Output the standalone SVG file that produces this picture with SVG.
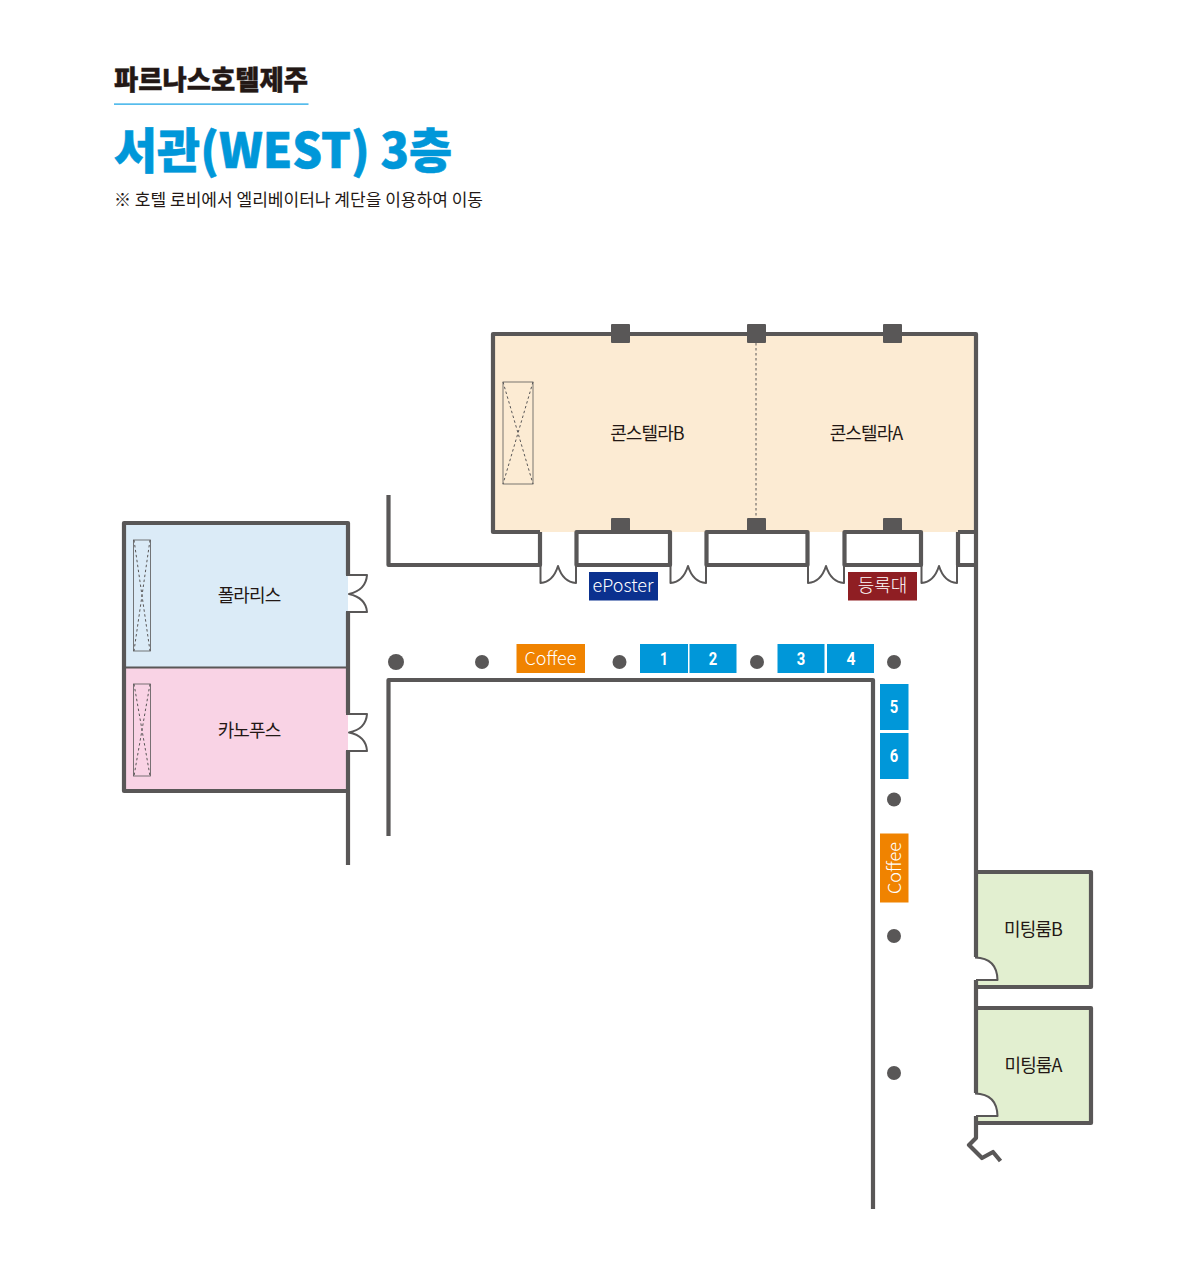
<svg xmlns="http://www.w3.org/2000/svg" width="1200" height="1284" viewBox="0 0 1200 1284">
<style>
.w{fill:none;stroke:#595757;stroke-width:4.200;stroke-linejoin:round}
.t{fill:none;stroke:#595757;stroke-width:2;stroke-linejoin:round}
.n{stroke:#595757;stroke-width:.8;fill:none}
.d{stroke:#595757;stroke-width:1;fill:none;stroke-dasharray:2.500 2.500}
.l{font-family:"Noto Sans CJK KR","Noto Sans",sans-serif;font-size:18px;font-weight:400;fill:#231815;text-anchor:middle;letter-spacing:-.9px}
.b{font-family:"Noto Sans CJK KR","Noto Sans",sans-serif;font-size:18px;font-weight:300;fill:#fff;text-anchor:middle}
.u{font-family:"Roboto","Noto Sans",sans-serif;font-size:18px;font-weight:700;fill:#fff;text-anchor:middle}
.c{fill:#595757}
.blue{fill:#0097d9}.org{fill:#f08300}
</style>
<g id="heading">
<text x="114" y="90" font-family="Noto Sans CJK KR,sans-serif" font-weight="900" font-size="27" fill="#231815" stroke="#231815" stroke-width=".4" textLength="194" lengthAdjust="spacingAndGlyphs">파르나스호텔제주</text>
<rect x="114" y="103.500" width="194.500" height="1.200" fill="#0ea0e4"/>
<text x="114" y="168" font-family="Noto Sans CJK KR,sans-serif" font-weight="900" font-size="48" fill="#0097d9" stroke="#0097d9" stroke-width=".6" textLength="338" lengthAdjust="spacingAndGlyphs">서관(WEST) 3층</text>
<text x="114" y="206" font-family="Noto Sans CJK KR,sans-serif" font-size="17" font-weight="400" fill="#231815" textLength="369" lengthAdjust="spacingAndGlyphs">※ 호텔 로비에서 엘리베이터나 계단을 이용하여 이동</text>
</g>
<g id="room-constella">
<rect x="493" y="334" width="483" height="198" fill="#fcebd3"/>
<path class="w" d="M540 532H493V334H976V566"/>
<path class="w" d="M576.500 532H670V565H576.500ZM706.500 532H807.500V565H706.500ZM844.500 532H921V565H844.500ZM958 532H976M958 532V565H976"/>
<path class="w" d="M388.500 495V565H540V532"/>
<path class="d" d="M756 343V518"/>
<rect class="n" x="503" y="382" width="30" height="102"/>
<path class="d" d="M503 382L533 484M533 382L503 484"/>
<g class="c">
<rect x="611" y="324" width="19" height="19" rx="1"/><rect x="747" y="324" width="19" height="19" rx="1"/><rect x="883" y="324" width="19" height="19" rx="1"/>
<rect x="611" y="518" width="19" height="15" rx="1"/><rect x="747" y="518" width="19" height="15" rx="1"/><rect x="883" y="518" width="19" height="15" rx="1"/>
</g>
<text class="l" x="647" y="440">콘스텔라B</text>
<text class="l" x="866" y="440">콘스텔라A</text>
</g>
<g id="doors-constella">
<path class="t" d="M540.500 565V583Q553 582 558 566Q563 582 576 583V565"/>
<path class="t" d="M670.500 565V583Q683 582 688 566Q693 582 706 583V565"/>
<path class="t" d="M808 565V583Q821 582 826 566Q831 582 844 583V565"/>
<path class="t" d="M921.500 565V583Q934 582 939 566Q944 582 957 583V565"/>
</g>
<g id="room-polaris">
<rect x="124" y="523" width="224" height="144" fill="#dbebf7"/>
<rect class="n" x="133.500" y="540" width="17" height="111" fill="#dbebf7"/>
<path class="d" d="M134 540L150 651M150 540L134 651"/>
<text class="l" x="249" y="601.500">폴라리스</text>
</g>
<g id="room-canopus">
<rect x="124" y="667" width="224" height="124" fill="#f9d3e5"/>
<rect class="n" x="133.500" y="684" width="17" height="92" fill="#f9d3e5"/>
<path class="d" d="M134 684L150 776M150 684L134 776"/>
<text class="l" x="249" y="736.500">카노푸스</text>
</g>
<g id="walls-left">
<path class="w" d="M348 575V523H124V791H348M348 612V713M348 751V865"/>
<path d="M124 667.500H348" stroke="#595757" stroke-width="2" fill="none"/>
<path class="t" d="M346 575H367Q366 590 349 594Q366 598 367 612H346"/>
<path class="t" d="M346 714H367Q366 729 349 732.500Q366 736 367 751H346"/>
<path class="w" d="M388.500 836V680H873V1209"/>
</g>
<g id="room-meeting-b">
<rect x="976" y="872" width="115" height="115" fill="#e2efd0"/>
<path class="w" d="M976 872H1091V987H976"/>
<path d="M974 957Q997 958 997.500 980H974Z" fill="#fff"/>
<path class="t" d="M975 957.500Q997 958 997.500 980H976"/>
<text class="l" x="1033" y="935.500">미팅룸B</text>
</g>
<g id="room-meeting-a">
<rect x="976" y="1008" width="115" height="115" fill="#e2efd0"/>
<path class="w" d="M976 1008H1091V1123H976"/>
<path d="M974 1093Q997 1094 997.500 1116H974Z" fill="#fff"/>
<path class="t" d="M975 1093.500Q997 1094 997.500 1116H976"/>
<text class="l" x="1033" y="1071.500">미팅룸A</text>
</g>
<g id="wall-east">
<path class="w" d="M976 566V957M976 980V1093M976 1116V1138L969 1145L982 1158L993 1152L1000.500 1161"/>
</g>
<g id="columns">
<circle class="c" cx="396" cy="662" r="8"/>
<circle class="c" cx="482" cy="662" r="7"/>
<circle class="c" cx="619.500" cy="662" r="7"/>
<circle class="c" cx="757" cy="662" r="7"/>
<circle class="c" cx="894" cy="662" r="7"/>
<circle class="c" cx="894" cy="799.500" r="7"/>
<circle class="c" cx="894" cy="936" r="7"/>
<circle class="c" cx="894" cy="1073" r="7"/>
</g>
<g id="booth-coffee-1"><rect class="org" x="516.500" y="644" width="68.500" height="29"/><text class="b" x="550.500" y="665">Coffee</text></g>
<g id="booth-1"><rect class="blue" x="640" y="644" width="48" height="29"/><text class="u" x="664" y="665" textLength="8" lengthAdjust="spacingAndGlyphs">1</text></g>
<g id="booth-2"><rect class="blue" x="689.500" y="644" width="47" height="29"/><text class="u" x="713" y="665" textLength="8.500" lengthAdjust="spacingAndGlyphs">2</text></g>
<g id="booth-3"><rect class="blue" x="777.500" y="644" width="47" height="29"/><text class="u" x="801" y="665" textLength="8.500" lengthAdjust="spacingAndGlyphs">3</text></g>
<g id="booth-4"><rect class="blue" x="827" y="644" width="47" height="29"/><text class="u" x="851" y="665" textLength="9" lengthAdjust="spacingAndGlyphs">4</text></g>
<g id="booth-5"><rect class="blue" x="880" y="684" width="28.500" height="46"/><text class="u" x="894" y="713" textLength="8.500" lengthAdjust="spacingAndGlyphs">5</text></g>
<g id="booth-6"><rect class="blue" x="880" y="733" width="28.500" height="46"/><text class="u" x="894" y="762" textLength="8.500" lengthAdjust="spacingAndGlyphs">6</text></g>
<g id="booth-coffee-2"><rect class="org" x="880" y="833.500" width="28.500" height="69"/><text class="b" transform="translate(900.500 868) rotate(-90)">Coffee</text></g>
<g id="eposter"><rect x="589" y="572" width="69" height="28.500" fill="#0b318f"/><text class="b" x="623" y="592">ePoster</text></g>
<g id="registration"><rect x="848" y="572" width="69" height="28.500" fill="#8f1e23"/><text class="b" x="882.500" y="592">등록대</text></g>
</svg>
